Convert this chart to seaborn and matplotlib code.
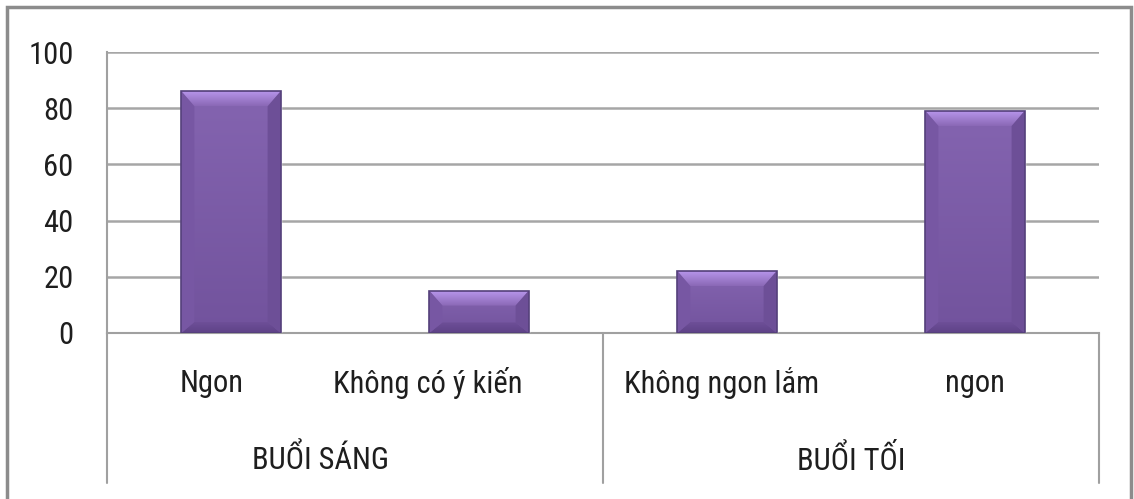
import matplotlib
matplotlib.use("Agg")
import matplotlib.pyplot as plt
from matplotlib.patches import Polygon, Rectangle
from matplotlib.colors import to_rgb
import numpy as np
import seaborn as sns
import pandas as pd

# ---- data ----
groups = ["BUỔI SÁNG", "BUỔI SÁNG", "BUỔI TỐI", "BUỔI TỐI"]
categories = ["Ngon", "Không có ý kiến", "Không ngon lắm", "ngon"]
values = [86, 15, 22, 79]
y_ticks = [0, 20, 40, 60, 80, 100]
group_names = ["BUỔI SÁNG", "BUỔI TỐI"]

df = pd.DataFrame({"group": groups, "category": categories, "value": values})

sns.set_theme(style="white")
plt.rcParams["font.family"] = ["Roboto Condensed", "DejaVu Sans"]

W, H = 1134, 499
fig = plt.figure(figsize=(W / 100, H / 100), dpi=100)
L, R, T, B = 107, 1099, 52, 333
ax = fig.add_axes([L / W, (H - B) / H, (R - L) / W, (B - T) / H])

MAIN = "#7E5CA9"
FS = 22
TXT = "#1E1E1E"
sns.barplot(data=df, x="category", y="value", color=MAIN, width=0.4,
            saturation=1, ax=ax, zorder=3)
ax.set_xlim(-0.5, 3.5)
ax.set_ylim(0, 100)
ax.set_yticks(y_ticks)
ax.set_xlabel("")
ax.set_ylabel("")
ax.set_xticks([])
ax.tick_params(axis="y", length=0, pad=24, labelsize=FS, labelcolor=TXT)
ax.yaxis.grid(True, color="#A6A6A6", lw=1.8, zorder=0)
for s in ["top", "right"]:
    ax.spines[s].set_visible(False)
for s in ["left", "bottom"]:
    ax.spines[s].set_color("#A0A0A0")
    ax.spines[s].set_linewidth(1.5)

# ---- bevel effect ----
fig.canvas.draw()
o = ax.transData.transform((0, 0))
inv = ax.transData.inverted()
bx = inv.transform(o + (13, 0))[0] - inv.transform(o)[0]
by_top = inv.transform(o + (0, 15))[1] - inv.transform(o)[1]
by_bot = inv.transform(o + (0, 11))[1] - inv.transform(o)[1]


def grad_poly(pts, c_top, c_bot, z):
    poly = Polygon(pts, closed=True, facecolor="none", edgecolor="none")
    ax.add_patch(poly)
    xs = [p[0] for p in pts]
    ys = [p[1] for p in pts]
    t = np.linspace(0, 1, 64)[:, None]
    a, b = np.array(to_rgb(c_top)), np.array(to_rgb(c_bot))
    img = (a * (1 - t) + b * t)[:, None, :]
    im = ax.imshow(img, extent=(min(xs), max(xs), min(ys), max(ys)), origin="upper",
                   aspect="auto", interpolation="bilinear", zorder=z)
    im.set_clip_path(poly)


for p in list(ax.patches):
    x0, y0 = p.get_x(), p.get_y()
    w, h = p.get_width(), p.get_height()
    x1, y1 = x0 + w, y0 + h
    tb = min(by_top, h * 0.35)
    bb = min(by_bot, h * 0.25)
    # body
    grad_poly([(x0, y0), (x1, y0), (x1, y1), (x0, y1)], "#8464B0", "#72539D", 3.5)
    # top bevel
    grad_poly([(x0, y1), (x1, y1), (x1 - bx, y1 - tb), (x0 + bx, y1 - tb)],
              "#B795EA", "#8A68B6", 4)
    # bottom bevel
    grad_poly([(x0, y0), (x1, y0), (x1 - bx, y0 + bb), (x0 + bx, y0 + bb)],
              "#6E4F98", "#5E4287", 4)
    # sides
    ax.add_patch(Polygon([(x0, y0), (x0, y1), (x0 + bx, y1 - tb), (x0 + bx, y0 + bb)],
                         closed=True, facecolor="#7757A3", edgecolor="none", zorder=4))
    ax.add_patch(Polygon([(x1, y0), (x1, y1), (x1 - bx, y1 - tb), (x1 - bx, y0 + bb)],
                         closed=True, facecolor="#6D4F97", edgecolor="none", zorder=4))
    ax.add_patch(Rectangle((x0, y0), w, h, facecolor="none", edgecolor="#54407A",
                           lw=1.2, zorder=5))
ax.set_xlim(-0.5, 3.5)
ax.set_ylim(0, 100)

# ---- category axis (two levels) ----
xt = ax.get_xaxis_transform()
sep_bottom = (B - 483) / (B - T)
for xs in [-0.5, 1.5, 3.5]:
    ax.plot([xs, xs], [0, sep_bottom], transform=xt, color="#A0A0A0", lw=1.5,
            clip_on=False)
slot_px = (R - L) / 4
label_offsets_px = [-19, -51, -5, 0]
for i, (cat, off) in enumerate(zip(categories, label_offsets_px)):
    ax.text(i + off / slot_px, (B - 383) / (B - T), cat, transform=xt, ha="center",
            va="center", fontsize=FS, color=TXT)
group_pos_px = [320, 851]
for g, gx in zip(group_names, group_pos_px):
    ax.text((gx - L) / slot_px - 0.5, (B - 460) / (B - T), g, transform=xt,
            ha="center", va="center", fontsize=FS, color=TXT)

# ---- outer chart border ----
fig.add_artist(Rectangle((7 / W, -0.05), (1131 - 7) / W, 1 - 7 / H + 0.05,
                         transform=fig.transFigure, facecolor="none",
                         edgecolor="#8C8C8C", lw=2.5))

fig.savefig("out.png", dpi=100)
